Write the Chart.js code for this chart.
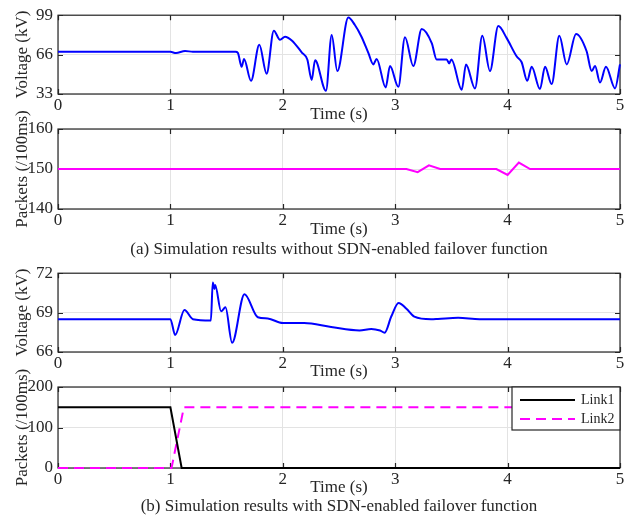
<!DOCTYPE html>
<html>
<head>
<meta charset="utf-8">
<script src="https://cdn.jsdelivr.net/npm/chart.js@4.4.0/dist/chart.umd.min.js"></script>
<style>
  body { margin: 0; background: #fff; }
  #wrap { position: relative; width: 629px; height: 516px; font-family: "Liberation Serif", serif; color: #262626; }
  canvas { position: absolute; left: 0; }
  .caption { position: absolute; left: 58px; width: 562px; text-align: center; font-size: 17px; line-height: 19px; }
</style>
</head>
<body>
<div id="wrap">
  <canvas id="c1" width="629" height="125" style="top:0px"></canvas>
  <canvas id="c2" width="629" height="135" style="top:105px"></canvas>
  <div class="caption" style="top:239px">(a) Simulation results without SDN-enabled failover function</div>
  <canvas id="c3" width="629" height="124" style="top:258px"></canvas>
  <canvas id="c4" width="629" height="133" style="top:365px"></canvas>
  <div class="caption" style="top:496px">(b) Simulation results with SDN-enabled failover function</div>
</div>
<script>
// x axis (all panels)
const xTicks = [0, 1, 2, 3, 4, 5];

// (a) voltage without failover
const voltageATime = [0, 1.0, 1.05, 1.13, 1.2, 1.58, 1.60, 1.634, 1.655, 1.717, 1.791, 1.856, 1.92, 1.975, 2.02, 2.08,
    2.168, 2.218, 2.257, 2.287, 2.384, 2.435, 2.485, 2.583, 2.64, 2.70, 2.761, 2.805, 2.835, 2.915, 2.954, 3.028,
    3.087, 3.161, 3.236, 3.325, 3.369, 3.458, 3.48, 3.50, 3.592, 3.63, 3.71, 3.775, 3.843, 3.917, 3.992, 4.08,
    4.125, 4.175, 4.214, 4.288, 4.333, 4.392, 4.46, 4.526, 4.609, 4.703, 4.748, 4.778, 4.822, 4.875, 4.956, 5.0];
const voltageA = [68.3, 68.3, 67.3, 69.0, 68.4, 68.3, 67.5, 55.8, 62.4, 44, 74.2, 50, 86, 78.4, 81, 77.8,
    67.9, 61.9, 44.8, 61.3, 35.7, 82.5, 52.2, 97, 91, 81, 67.4, 57.8, 62.4, 38.5, 56.4, 39,
    80.6, 56.4, 87.4, 75.6, 61.9, 61.9, 58.6, 61.9, 36.6, 57.8, 37.7, 81.7, 52.2, 89.9, 79.8, 64.6,
    59.6, 44, 55.8, 37.1, 55.8, 41.3, 81.7, 57.8, 83.3, 68.8, 52.2, 56.4, 42.6, 55.8, 37.7, 57.8];
const yTicksVoltageA = [33, 66, 99];

// (a) packets without failover
const packetsATime = [0, 3.1, 3.2, 3.3, 3.4, 3.9, 4.0, 4.1, 4.2, 5];
const packetsA = [150, 150, 149.2, 150.9, 150, 150, 148.5, 151.6, 150, 150];
const yTicksPacketsA = [140, 150, 160];

// (b) voltage with failover
const voltageBTime = [0, 1.0, 1.042, 1.125, 1.2, 1.36, 1.377, 1.392, 1.398, 1.451, 1.49, 1.549, 1.659, 1.778,
    1.867, 2.0, 2.19, 2.43, 2.683, 2.787, 2.865, 2.906, 2.965, 3.03, 3.1, 3.17, 3.32, 3.38, 3.56, 3.75, 4.03, 5.0];
const voltageB = [68.5, 68.5, 67.3, 69.2, 68.5, 68.4, 71.3, 70.8, 71.1, 69.1, 69.4, 66.7, 70.4, 68.65,
    68.55, 68.2, 68.2, 67.9, 67.64, 67.76, 67.64, 67.47, 68.7, 69.74, 69.3, 68.7, 68.5, 68.52, 68.6, 68.5, 68.5, 68.5];
const yTicksVoltageB = [66, 69, 72];

// (b) packets per link with failover
const link1Time = [0, 1.0, 1.1, 5];
const link1 = [150, 150, 0, 0];
const link2Time = [0, 1.01, 1.12, 5];
const link2 = [0, 0, 150, 150];
const linkLabels = ['Link1', 'Link2'];
const yTicksPackets = [0, 100, 200];

Chart.defaults.font.family = '"Liberation Serif", serif';
Chart.defaults.font.size = 17;
Chart.defaults.color = '#262626';

const toPoints = (xs, ys) => xs.map((x, i) => ({ x: x, y: ys[i] }));

// axes box with inward tick marks, drawn under the data lines
const boxPlugin = {
    id: 'box',
    beforeDatasetsDraw(chart) {
        const { ctx, chartArea: a, scales } = chart;
        ctx.save();
        ctx.strokeStyle = '#262626';
        ctx.lineWidth = 1.2;
        ctx.strokeRect(a.left, a.top, a.right - a.left, a.bottom - a.top);
        ctx.beginPath();
        scales.x.ticks.forEach(t => {
            const px = Math.round(scales.x.getPixelForValue(t.value)) + 0.5;
            ctx.moveTo(px, a.bottom); ctx.lineTo(px, a.bottom - 5);
            ctx.moveTo(px, a.top); ctx.lineTo(px, a.top + 5);
        });
        scales.y.ticks.forEach(t => {
            const py = Math.round(scales.y.getPixelForValue(t.value)) + 0.5;
            ctx.moveTo(a.left, py); ctx.lineTo(a.left + 5, py);
            ctx.moveTo(a.right, py); ctx.lineTo(a.right - 5, py);
        });
        ctx.stroke();
        ctx.restore();
    }
};

// boxed legend in the top right corner of panel (b) packets
const linkLegend = {
    id: 'linkLegend',
    afterDatasetsDraw(chart) {
        const { ctx, chartArea: a } = chart;
        const w = 108, h = 43, left = a.right - w, top = a.top;
        ctx.save();
        ctx.fillStyle = '#fff';
        ctx.fillRect(left, top, w, h);
        ctx.strokeStyle = '#262626';
        ctx.lineWidth = 1.2;
        ctx.strokeRect(left, top, w, h);
        ctx.font = '14px "Liberation Serif", serif';
        ctx.textBaseline = 'middle';
        chart.data.datasets.forEach((ds, i) => {
            const y = top + 13 + i * 19;
            ctx.strokeStyle = ds.borderColor;
            ctx.lineWidth = ds.borderWidth;
            ctx.setLineDash(ds.borderDash || []);
            ctx.beginPath();
            ctx.moveTo(left + 8, y);
            ctx.lineTo(left + 63, y);
            ctx.stroke();
            ctx.setLineDash([]);
            ctx.fillStyle = '#262626';
            ctx.fillText(linkLabels[i], left + 69, y);
        });
        ctx.restore();
    }
};

function makeOptions(yMin, yMax, yTicks, yTitle, padTop, xAxisHeight) {
    return {
        responsive: false,
        animation: false,
        layout: { padding: { top: padTop, right: 9, left: 0, bottom: 0 } },
        plugins: { legend: { display: false }, tooltip: { enabled: false } },
        elements: { point: { radius: 0 } },
        datasets: { line: { clip: 3 } },
        scales: {
            x: {
                type: 'linear',
                min: 0,
                max: 5,
                afterBuildTicks: s => { s.ticks = xTicks.map(v => ({ value: v })); },
                afterFit: s => { s.height = xAxisHeight; },
                grid: { color: '#e3e3e3', drawTicks: false },
                border: { display: false },
                ticks: { padding: 1 },
                title: { display: true, text: 'Time (s)', padding: 0 }
            },
            y: {
                min: yMin,
                max: yMax,
                afterBuildTicks: s => { s.ticks = yTicks.map(v => ({ value: v })); },
                afterFit: s => { s.width = 58; },
                grid: { color: '#e3e3e3', drawTicks: false },
                border: { display: false },
                ticks: { padding: 5 },
                title: { display: true, text: yTitle, padding: { top: 12, bottom: 0 } }
            }
        }
    };
}

new Chart(document.getElementById('c1'), {
    type: 'line',
    data: {
        datasets: [{
            data: toPoints(voltageATime, voltageA),
            borderColor: '#0000ff',
            borderWidth: 2,
            cubicInterpolationMode: 'monotone'
        }]
    },
    options: makeOptions(33, 99, yTicksVoltageA, 'Voltage (kV)', 13, 31),
    plugins: [boxPlugin]
});

new Chart(document.getElementById('c2'), {
    type: 'line',
    data: {
        datasets: [{
            data: toPoints(packetsATime, packetsA),
            borderColor: '#ff00ff',
            borderWidth: 2
        }]
    },
    options: makeOptions(140, 160, yTicksPacketsA, 'Packets (/100ms)', 24, 31),
    plugins: [boxPlugin]
});

new Chart(document.getElementById('c3'), {
    type: 'line',
    data: {
        datasets: [{
            data: toPoints(voltageBTime, voltageB),
            borderColor: '#0000ff',
            borderWidth: 2,
            cubicInterpolationMode: 'monotone'
        }]
    },
    options: makeOptions(66, 72, yTicksVoltageB, 'Voltage (kV)', 12, 30),
    plugins: [boxPlugin]
});

new Chart(document.getElementById('c4'), {
    type: 'line',
    data: {
        datasets: [{
            label: linkLabels[0],
            data: toPoints(link1Time, link1),
            borderColor: '#000000',
            borderWidth: 2
        }, {
            label: linkLabels[1],
            data: toPoints(link2Time, link2),
            borderColor: '#ff00ff',
            borderWidth: 2,
            borderDash: [10, 6]
        }]
    },
    options: makeOptions(0, 200, yTicksPackets, 'Packets (/100ms)', 22, 30),
    plugins: [boxPlugin, linkLegend]
});
</script>
</body>
</html>
